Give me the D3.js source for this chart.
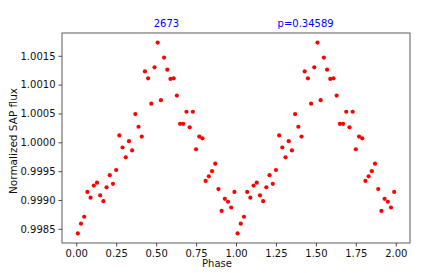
<!DOCTYPE html>
<html>
<head>
<meta charset="utf-8">
<script src="https://cdn.jsdelivr.net/npm/d3@7"></script>
<style>
  body { margin: 0; background: #fff; }
  svg { display: block; font-family: "DejaVu Sans", sans-serif; }
</style>
</head>
<body>
<script>
// binned phases of one cycle
var phases = [0.01, 0.03, 0.05, 0.07, 0.09, 0.11, 0.13, 0.15, 0.17, 0.19,
              0.21, 0.23, 0.25, 0.27, 0.29, 0.31, 0.33, 0.35, 0.37, 0.39,
              0.41, 0.43, 0.45, 0.47, 0.49, 0.51, 0.53, 0.55, 0.57, 0.59,
              0.61, 0.63, 0.65, 0.67, 0.69, 0.71, 0.73, 0.75, 0.77, 0.79,
              0.81, 0.83, 0.85, 0.87, 0.89, 0.91, 0.93, 0.95, 0.97, 0.99];
var flux = [0.99842, 0.99859, 0.99871, 0.99914, 0.99904, 0.99925, 0.99930, 0.99908, 0.99898, 0.99922,
            0.99943, 0.99928, 0.99952, 1.00012, 0.99991, 0.99974, 1.00002, 0.99986, 1.00049, 1.00027,
            1.00010, 1.00123, 1.00111, 1.00067, 1.00130, 1.00173, 1.00073, 1.00147, 1.00126, 1.00110,
            1.00111, 1.00081, 1.00032, 1.00032, 1.00053, 1.00026, 1.00053, 0.99988, 1.00010, 1.00007,
            0.99933, 0.99941, 0.99950, 0.99963, 0.99919, 0.99881, 0.99902, 0.99897, 0.99887, 0.99914];
var cycles = [0, 1];
var xTicks = [0, 0.25, 0.5, 0.75, 1, 1.25, 1.5, 1.75, 2];
var yTicks = [0.9985, 0.9990, 0.9995, 1.0000, 1.0005, 1.0010, 1.0015];
var titleLeft = "2673";
var titleRight = "p=0.34589";

var w = 436, h = 273;
var mLeft = 62, mRight = 410, mTop = 33, mBottom = 243;

// folded data shown twice
var points = [];
cycles.forEach(function(c) {
  phases.forEach(function(p, i) {
    points.push({x: p + c, y: flux[i]});
  });
});

// matplotlib style 5% margins
var xe = d3.extent(points, function(d) { return d.x; });
var ye = d3.extent(points, function(d) { return d.y; });
var xm = (xe[1] - xe[0]) * 0.05, ym = (ye[1] - ye[0]) * 0.05;

var x = d3.scaleLinear().domain([xe[0] - xm, xe[1] + xm]).range([mLeft, mRight]);
var y = d3.scaleLinear().domain([ye[0] - ym, ye[1] + ym]).range([mBottom, mTop]);

var svg = d3.select("body").append("svg")
  .attr("width", w)
  .attr("height", h);

// dots
svg.append("g")
  .selectAll("circle")
  .data(points)
  .enter()
  .append("circle")
  .attr("cx", function(d) { return x(d.x); })
  .attr("cy", function(d) { return y(d.y); })
  .attr("r", 2.1)
  .attr("fill", "#ff0000");

// axes
var xAxis = svg.append("g")
  .attr("transform", "translate(0," + mBottom + ")")
  .call(d3.axisBottom(x).tickValues(xTicks).tickSize(3.5).tickPadding(3)
    .tickFormat(d3.format(".2f")));
var yAxis = svg.append("g")
  .attr("transform", "translate(" + mLeft + ",0)")
  .call(d3.axisLeft(y).tickValues(yTicks).tickSize(3.5).tickPadding(3)
    .tickFormat(d3.format(".4f")));

[xAxis, yAxis].forEach(function(a) {
  a.select(".domain").remove();
  a.selectAll("line").attr("stroke", "#222").attr("stroke-width", 0.8);
  a.selectAll("text").attr("fill", "#111").style("font-size", "10px")
    .style("font-family", "DejaVu Sans, sans-serif");
});

// frame
svg.append("rect")
  .attr("x", mLeft)
  .attr("y", mTop)
  .attr("width", mRight - mLeft)
  .attr("height", mBottom - mTop)
  .attr("fill", "none")
  .attr("stroke", "#333")
  .attr("stroke-width", 0.8);

// titles
svg.append("text")
  .attr("x", mLeft + (mRight - mLeft) * 0.3)
  .attr("y", 26.5)
  .attr("text-anchor", "middle")
  .attr("fill", "#0000ff")
  .style("font-size", "10px")
  .text(titleLeft);
svg.append("text")
  .attr("x", mLeft + (mRight - mLeft) * 0.7)
  .attr("y", 26.5)
  .attr("text-anchor", "middle")
  .attr("fill", "#0000ff")
  .style("font-size", "10px")
  .text(titleRight);

// axis labels
svg.append("text")
  .attr("x", 217)
  .attr("y", 267)
  .attr("text-anchor", "middle")
  .attr("fill", "#111")
  .style("font-size", "10px")
  .text("Phase");
svg.append("text")
  .attr("transform", "translate(17,141) rotate(-90)")
  .attr("text-anchor", "middle")
  .attr("fill", "#111")
  .style("font-size", "10.5px")
  .text("Normalized SAP flux");
</script>
</body>
</html>
